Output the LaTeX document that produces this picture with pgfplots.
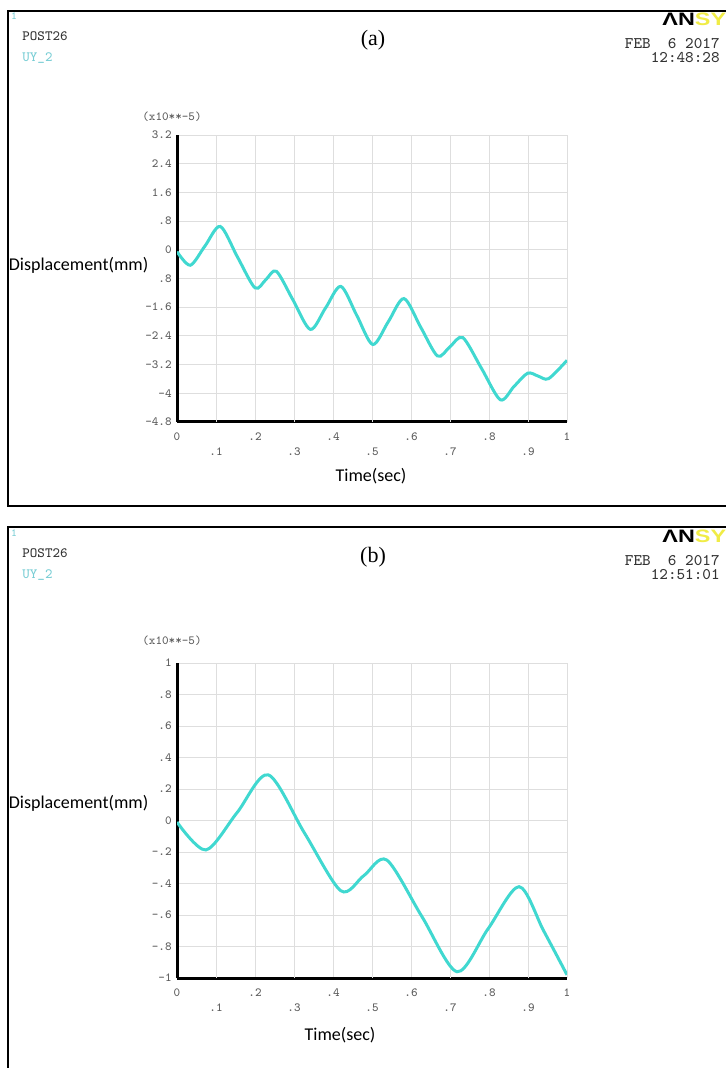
\documentclass[border=0pt]{standalone}
\usepackage{fontspec}
\setmainfont{Liberation Serif}
\newfontfamily\sansf{Carlito}
\newfontfamily\logof{Liberation Sans}
\usepackage{graphicx}
\usepackage{pgfplots}
\pgfplotsset{compat=1.18}
\definecolor{turq}{RGB}{64,216,208}
\definecolor{paleteal}{RGB}{120,205,212}
\definecolor{gridgray}{RGB}{222,222,222}
\definecolor{ticktxt}{RGB}{90,90,90}
\definecolor{ansysyel}{RGB}{240,236,70}

\pgfplotsset{
  ansysplot/.style={
    scale only axis, width=195pt, anchor=south west,
    xmin=0, xmax=1,
    axis x line*=bottom, axis y line*=left,
    axis line style={line width=1.5pt, black, -},
    grid=major, grid style={gridgray, line width=0.5pt},
    major tick length=0pt,
    xtick={0,0.2,0.4,0.6,0.8,1}, xticklabels={0,.2,.4,.6,.8,1},
    extra x ticks={0.1,0.3,0.5,0.7,0.9}, extra x tick labels={.1,.3,.5,.7,.9},
    extra x tick style={grid=major, xticklabel style={yshift=-7.25pt}},
    tick label style={font=\ttfamily\fontsize{6.2}{7}\selectfont, text=ticktxt},
    xticklabel style={anchor=center, yshift=-7.5pt},
    yticklabel style={anchor=east, inner sep=0pt, xshift=-2.5pt},
  },
}

% header of one ANSYS window; #1 vertical offset, #2 panel tag, #3 time
\newcommand{\panelhead}[3]{%
  \node[inner sep=0, text=paleteal, font=\ttfamily\fontsize{5.5}{6}\selectfont] at (7pt,#1-8pt) {1};
  \node[anchor=west, inner sep=0, text=black!80, font=\ttfamily\fontsize{7.1}{8}\selectfont] at (11pt,#1-18pt) {POST26};
  \node[anchor=west, inner sep=0, text=paleteal, font=\ttfamily\fontsize{7.1}{8}\selectfont] at (11pt,#1-29pt) {UY\_2};
  \node[inner sep=0, font=\fontsize{11}{12}\selectfont] at (186.5pt,#1-20pt) {#2};
  \node[anchor=north west, inner sep=0] at (331pt,#1-6.5pt)
    {\scalebox{1.3}[1]{\logof\bfseries\fontsize{9}{9}\selectfont ΛN\textcolor{ansysyel}{SYS}}};
  \node[anchor=east, inner sep=0, text=black!80, font=\ttfamily\fontsize{8.1}{9}\selectfont] at (360pt,#1-22pt) {FEB~~6~2017};
  \node[anchor=east, inner sep=0, text=black!80, font=\ttfamily\fontsize{8.1}{9}\selectfont] at (360pt,#1-29pt) {#3};
}

\begin{document}
\begin{tikzpicture}
\useasboundingbox (0,0) rectangle (362.5pt,-534pt);
\draw[line width=0.8pt] (4pt,-5.5pt) rectangle (370pt,-253pt);
\draw[line width=0.8pt] (4pt,-263.5pt) rectangle (370pt,-545pt);

\panelhead{0pt}{(a)}{12:48:28}
\panelhead{-258.5pt}{(b)}{12:51:01}

% (a)
\begin{axis}[ansysplot, at={(88.5pt,-211pt)}, height=143.5pt,
  ymin=-4.8, ymax=3.2,
  ytick={-4.8,-4,-3.2,-2.4,-1.6,-0.8,0,0.8,1.6,2.4,3.2},
  yticklabels={-4.8,-4,-3.2,-2.4,-1.6,.8,0,.8,1.6,2.4,3.2}]
\addplot[turq, line width=1.5pt, smooth] coordinates {
  (0,-0.05) (0.034,-0.43) (0.072,0.11) (0.111,0.65) (0.155,-0.20)
  (0.200,-1.06) (0.228,-0.83) (0.255,-0.60) (0.298,-1.41) (0.342,-2.22)
  (0.381,-1.62) (0.420,-1.02) (0.461,-1.83) (0.502,-2.64) (0.542,-2.00)
  (0.582,-1.36) (0.625,-2.16) (0.668,-2.96) (0.700,-2.70) (0.733,-2.45)
  (0.781,-3.31) (0.829,-4.18) (0.864,-3.81) (0.899,-3.44) (0.926,-3.52)
  (0.953,-3.59) (1.000,-3.08)};
\end{axis}

% (b)
\begin{axis}[ansysplot, at={(88.5pt,-489pt)}, height=157.5pt,
  ymin=-1, ymax=1,
  ytick={-1,-0.8,-0.6,-0.4,-0.2,0,0.2,0.4,0.6,0.8,1},
  yticklabels={-1,-.8,-.6,-.4,-.2,0,.2,.4,.6,.8,1}]
\addplot[turq, line width=1.5pt, smooth] coordinates {
  (0,-0.01) (0.074,-0.187) (0.154,0.05) (0.234,0.29) (0.327,-0.08)
  (0.420,-0.446) (0.479,-0.35) (0.538,-0.251) (0.628,-0.61) (0.718,-0.96)
  (0.797,-0.69) (0.877,-0.42) (0.940,-0.70) (1.000,-0.98)};
\end{axis}

\node[anchor=west, inner sep=0, font=\sansf\fontsize{9}{10}\selectfont] at (4.25pt,-132.5pt) {Displacement(mm)};
\node[anchor=west, inner sep=0, font=\sansf\fontsize{9}{10}\selectfont] at (4.25pt,-401.5pt) {Displacement(mm)};
\node[inner sep=0, font=\sansf\fontsize{9}{10}\selectfont] at (185.5pt,-238pt) {Time(sec)};
\node[inner sep=0, font=\sansf\fontsize{9}{10}\selectfont] at (170pt,-517.5pt) {Time(sec)};
\node[inner sep=0, text=ticktxt, font=\ttfamily\fontsize{6.2}{7}\selectfont] at (86pt,-58.5pt) {(x10**-5)};
\node[inner sep=0, text=ticktxt, font=\ttfamily\fontsize{6.2}{7}\selectfont] at (86pt,-320.5pt) {(x10**-5)};
\end{tikzpicture}
\end{document}
